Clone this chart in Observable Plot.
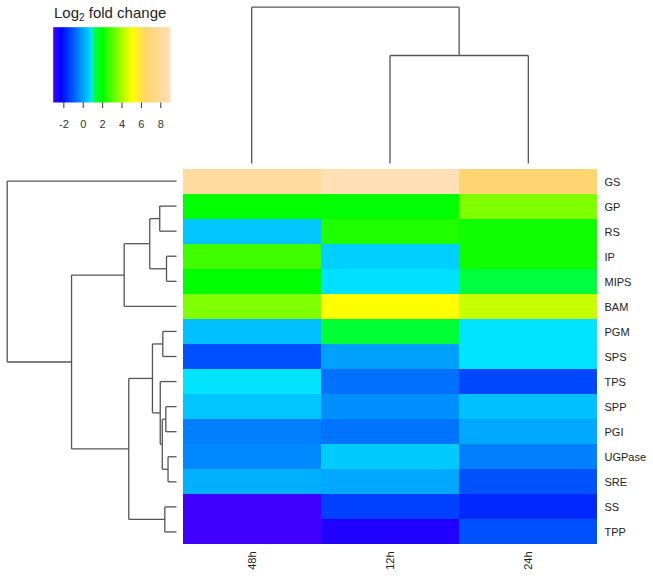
<!DOCTYPE html>
<html>
<head>
<meta charset="utf-8">
<script src="https://cdn.jsdelivr.net/npm/d3@7"></script>
<script src="https://cdn.jsdelivr.net/npm/@observablehq/plot@0.6"></script>
<style>
  html, body { margin: 0; padding: 0; background: #fff; }
  #wrap { position: relative; width: 653px; height: 585px; overflow: hidden; background: #fff; }
  #wrap svg { position: absolute; left: 0; top: 0; background: transparent; }
  #title { position: absolute; left: 54px; top: 4px; font: 15px "Liberation Sans", Arial, sans-serif; color: #222; white-space: nowrap; }
  #title sub { font-size: 10px; vertical-align: -3px; line-height: 0; }
</style>
</head>
<body>
<div id="wrap"><div id="title">Log<sub>2</sub> fold change</div></div>
<script>
// ---- data ----
const columns = ["48h", "12h", "24h"];
const rows = ["GS", "GP", "RS", "IP", "MIPS", "BAM", "PGM", "SPS", "TPS", "SPP", "PGI", "UGPase", "SRE", "SS", "TPP"];
const v48h = [8.2, 2.0, 0.49, 2.75, 2.0, 3.5, 0.38, -1.18, 0.85, 0.45, -0.52, -0.4, 0.15, -3.0, -3.0];
const v12h = [8.9, 2.0, 2.38, 0.6, 0.8, 5.0, 1.25, -0.07, -0.74, -0.3, -0.7, 0.52, 0.04, -1.41, -2.66];
const v24h = [6.6, 3.5, 2.19, 2.19, 1.15, 4.35, 0.85, 0.85, -1.3, 0.38, 0.04, -0.52, -1.15, -1.74, -1.18];

// colour key (Log2 fold change)
const keyStops  = [-3.1, -2.3, 0.6, 0.9, 1.1, 2.0, 5.0, 6.5, 9.0];
const keyColors = ["#4800FF", "#0000FF", "#00D0FF", "#00E8FF", "#00FF40", "#00FF00", "#FFFF00", "#FFD46E", "#FFDFB8"];
const keyTicks  = [-2, 0, 2, 4, 6, 8];

// row dendrogram merges: [left, right, height]; strings = leaves, numbers = earlier merge (1-based)
const rowMerges = [
  ["UGPase", "SRE", 0.50],
  ["IP", "MIPS", 0.59],
  ["SPP", "PGI", 0.63],
  ["SS", "TPP", 0.69],
  ["PGM", "SPS", 0.81],
  [3, 1, 0.84],
  ["TPS", 6, 0.96],
  ["GP", "RS", 0.99],
  [5, 7, 1.42],
  [8, 2, 1.58],
  [9, 4, 2.82],
  [10, "BAM", 3.09],
  [12, 11, 6.20],
  ["GS", 13, 10.0]
];
// column dendrogram merges
const colMerges = [
  ["12h", "24h", 6.91],
  ["48h", 1, 10.0]
];

// ---- build tables ----
const series = {"48h": v48h, "12h": v12h, "24h": v24h};
const cells = [];
for (const c of columns) rows.forEach((r, i) => cells.push({row: r, col: c, value: series[c][i]}));

function dendroSegments(leaves, merges) {
  const leaf = new Map(leaves.map((l, i) => [l, {p: i, h: 0}]));
  const nodes = [];
  const get = (c) => typeof c === "number" ? nodes[c - 1] : leaf.get(c);
  const segs = [];
  for (const [a, b, h] of merges) {
    const A = get(a), B = get(b);
    segs.push({p1: A.p, h1: h, p2: B.p, h2: h});
    segs.push({p1: A.p, h1: A.h, p2: A.p, h2: h});
    segs.push({p1: B.p, h1: B.h, p2: B.p, h2: h});
    nodes.push({p: (A.p + B.p) / 2, h});
  }
  return segs;
}
const rowSegs = dendroSegments(rows, rowMerges);
const colSegs = dendroSegments(columns, colMerges);

const W = 653, H = 585;
const font = "'Liberation Sans', Arial, sans-serif";
const colorScale = {type: "linear", domain: keyStops, range: keyColors, interpolate: "rgb"};
const baseStyle = {background: "transparent", fontFamily: font, overflow: "visible"};
const wrap = document.getElementById("wrap");

// heatmap
const heat = Plot.plot({
  width: W, height: H,
  marginLeft: 182, marginRight: 56, marginTop: 168, marginBottom: 41,
  style: {...baseStyle, fontSize: "11px", color: "#222"},
  x: {domain: columns, padding: 0, axis: "bottom", tickSize: 0, tickPadding: 7, tickRotate: -90, label: null},
  y: {domain: rows, padding: 0, axis: "right", tickSize: 0, tickPadding: 7, label: null},
  color: colorScale,
  marks: [
    Plot.cell(cells, {x: "col", y: "row", fill: "value", inset: 0})
  ]
});
wrap.appendChild(heat);

// row dendrogram
const rowDen = Plot.plot({
  width: W, height: H,
  marginLeft: 6.7, marginRight: W - 176, marginTop: 168, marginBottom: 41,
  style: baseStyle,
  x: {domain: [10, 0], axis: null},
  y: {domain: [rows.length - 0.5, -0.5], axis: null},
  marks: [
    Plot.link(rowSegs, {x1: "h1", y1: "p1", x2: "h2", y2: "p2", stroke: "#555", strokeWidth: 1.3})
  ]
});
wrap.appendChild(rowDen);

// column dendrogram
const colDen = Plot.plot({
  width: W, height: H,
  marginLeft: 182, marginRight: 56, marginTop: 6.7, marginBottom: H - 163,
  style: baseStyle,
  x: {domain: [-0.5, columns.length - 0.5], axis: null},
  y: {domain: [0, 10], axis: null},
  marks: [
    Plot.link(colSegs, {x1: "p1", y1: "h1", x2: "p2", y2: "h2", stroke: "#555", strokeWidth: 1.3})
  ]
});
wrap.appendChild(colDen);

// colour key
const key = Plot.plot({
  width: W, height: H,
  marginLeft: 52.7, marginRight: W - 170, marginTop: 26.7, marginBottom: H - 102,
  style: {...baseStyle, fontSize: "11px", color: "#333"},
  x: {domain: [keyStops[0], keyStops[keyStops.length - 1]], ticks: keyTicks, tickFormat: (d) => String(d), tickSize: 6, tickPadding: 12, label: null, axis: "bottom"},
  y: {domain: [0, 1], axis: null},
  color: colorScale,
  marks: [
    Plot.raster({fill: (x, y) => x, x1: keyStops[0], x2: keyStops[keyStops.length - 1], y1: 0, y2: 1, width: 240, height: 2})
  ]
});
wrap.appendChild(key);
</script>
</body>
</html>
